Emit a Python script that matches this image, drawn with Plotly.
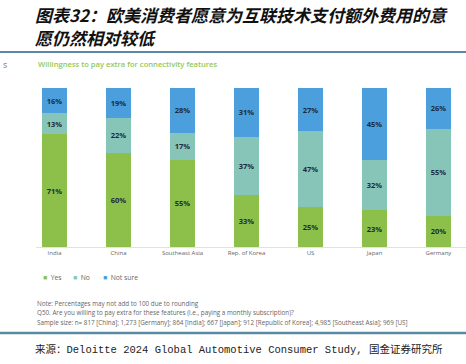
import plotly.graph_objects as go

countries = ["India", "China", "Southeast Asia", "Rep. of Korea", "US", "Japan", "Germany"]
yes = [71, 60, 55, 33, 25, 23, 20]
no = [13, 22, 17, 37, 47, 32, 55]
not_sure = [16, 19, 28, 31, 27, 45, 26]
series_names = ["Yes", "No", "Not sure"]
series_colors = ["#8cc04b", "#87c5b9", "#4a9fdc"]

title_l1 = "图表32：欧美消费者愿意为互联技术支付额外费用的意"
title_l2 = "愿仍然相对较低"
subtitle = "Willingness to pay extra for connectivity features"
notes = [
    "Note: Percentages may not add to 100 due to rounding",
    "Q50. Are you willing to pay extra for these features (i.e., paying a monthly subscription)?",
    "Sample size: n= 817 [China]; 1,273 [Germany]; 864 [India]; 667 [Japan]; 912 [Republic of Korea]; 4,985 [Southeast Asia]; 969 [US]",
]
source = "来源：Deloitte 2024 Global Automotive Consumer Study, 国金证券研究所"

W, H = 466, 364
L, R, T, B = 36, 0, 88, 117


def px(x):
    return (x - L) / (W - L - R)


def py(y):
    return (H - B - y) / (H - T - B)


fig = go.Figure()
for name, vals, col in zip(series_names, [yes, no, not_sure], series_colors):
    fig.add_trace(go.Bar(
        x=countries, y=vals, name=name,
        marker=dict(color=col, line=dict(width=0)),
        text=[f"{v}%" for v in vals],
        textposition="inside", insidetextanchor="middle",
        textangle=0, constraintext="none",
        textfont=dict(family="Open Sans", size=7.5, color="#1e2b3a", weight="bold"),
        showlegend=False,
    ))

ann = []
ann.append(dict(x=px(33), y=py(14), text="<b><i>" + title_l1 + "</i></b>", xanchor="left", yanchor="middle",
                font=dict(family="Noto Sans CJK SC", size=17, color="#111111")))
ann.append(dict(x=px(33), y=py(37), text="<b><i>" + title_l2 + "</i></b>", xanchor="left", yanchor="middle",
                font=dict(family="Noto Sans CJK SC", size=17, color="#111111")))
ann.append(dict(x=px(1), y=py(64), text="s", xanchor="left", yanchor="middle",
                font=dict(family="Open Sans", size=9, color="#777777")))
ann.append(dict(x=px(36), y=py(64), text=subtitle, xanchor="left", yanchor="middle",
                font=dict(family="Open Sans", size=7.6, color="#92c957", weight=600)))
leg_x = [41, 71, 101]
for name, col, lx in zip(series_names, series_colors, leg_x):
    ann.append(dict(x=px(lx), y=py(277),
                    text=f"<span style='color:{col}'>■</span>  {name}",
                    xanchor="left", yanchor="middle",
                    font=dict(family="Open Sans", size=6.8, color="#666666")))
for i, n in enumerate(notes):
    ann.append(dict(x=px(35), y=py(303 + i * 9.6), text=n, xanchor="left", yanchor="middle",
                    font=dict(family="Open Sans", size=6.3, color="#666666")))
ann.append(dict(x=px(33), y=py(349), text=source, xanchor="left", yanchor="middle",
                font=dict(family="Liberation Mono, Noto Sans CJK SC", size=10.5, color="#222222")))
for a in ann:
    a.update(xref="paper", yref="paper", showarrow=False)

shapes = [
    dict(type="line", xref="paper", yref="paper", x0=px(0), x1=px(466), y0=py(52), y1=py(52),
         line=dict(color="#5a8aa3", width=2)),
    dict(type="line", xref="paper", yref="paper", x0=px(0), x1=px(466), y0=py(333), y1=py(333),
         line=dict(color="#5a8aa3", width=2.5)),
]

fig.update_layout(
    width=W, height=H,
    margin=dict(l=L, r=R, t=T, b=B, pad=0),
    barmode="stack", barnorm="percent", bargap=0.61,
    plot_bgcolor="white", paper_bgcolor="white",
    annotations=ann, shapes=shapes,
    showlegend=False,
    xaxis=dict(range=[-0.29, 6.43], showline=True, linecolor="#e2e2e2", linewidth=1,
               ticks="", showgrid=False, zeroline=False,
               tickfont=dict(family="Open Sans", size=6, color="#666666")),
    yaxis=dict(range=[0, 100], showticklabels=False, showgrid=False, zeroline=False, ticks=""),
)

fig.write_html("out.html",
               config={"displayModeBar": False},
               post_script="document.body.style.margin='0';document.body.style.padding='0';"
                           "document.documentElement.style.overflow='hidden';")
